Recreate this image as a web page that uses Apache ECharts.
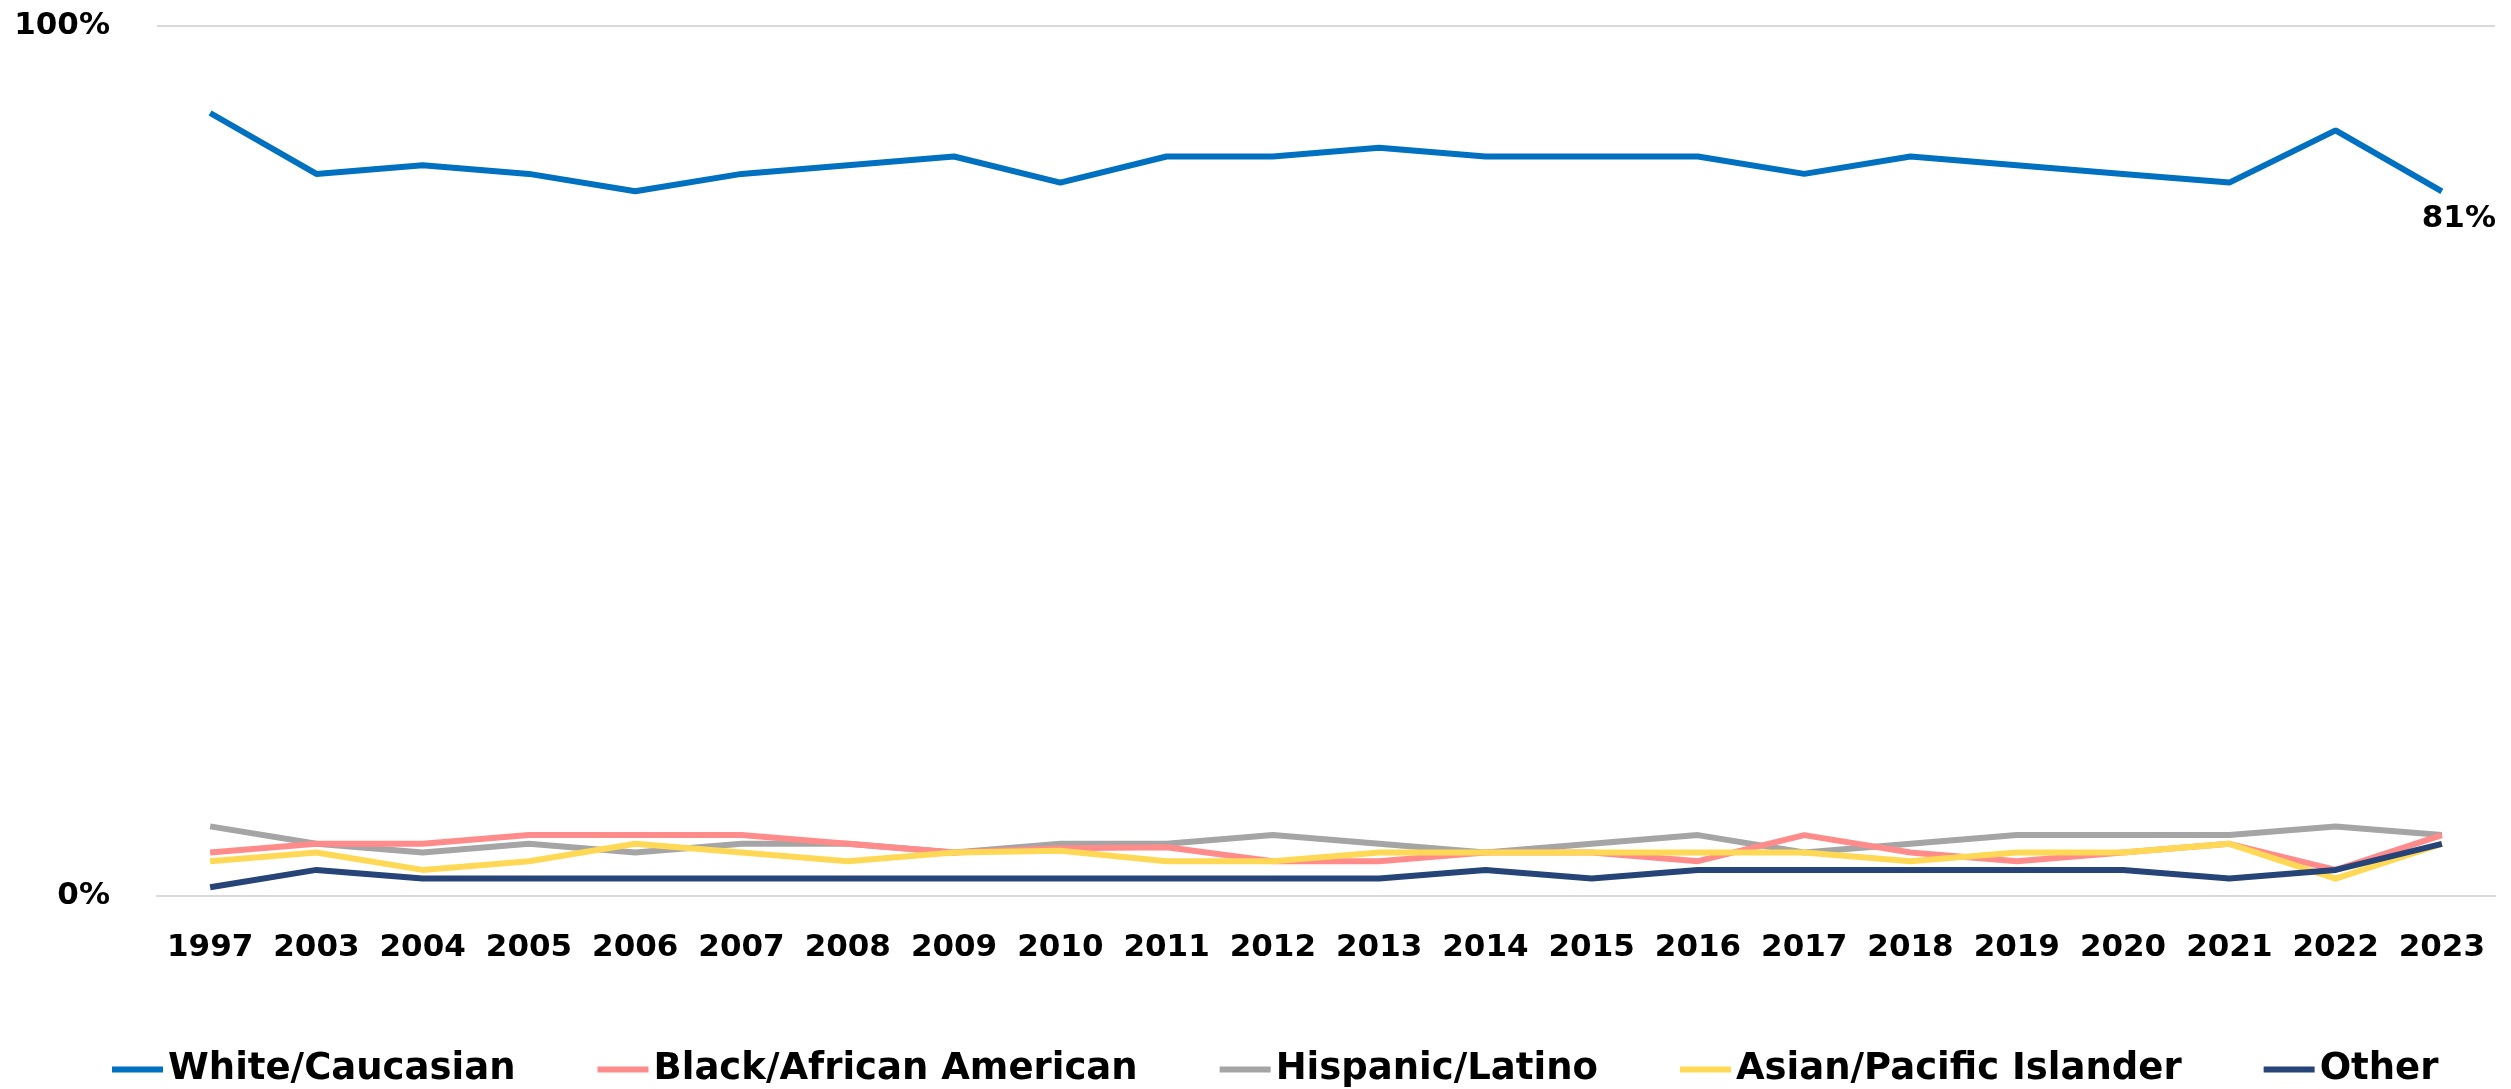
<!DOCTYPE html>
<html>
<head>
<meta charset="utf-8">
<script src="https://cdn.jsdelivr.net/npm/echarts@6/dist/echarts.min.js"></script>
<style>
html,body{margin:0;padding:0;background:#fff;}
#chart{width:2511px;height:1089px;}
</style>
</head>
<body>
<div id="chart"></div>
<script>
var years = ['1997','2003','2004','2005','2006','2007','2008','2009','2010','2011','2012','2013','2014','2015','2016','2017','2018','2019','2020','2021','2022','2023'];
var white    = [90,83,84,83,81,83,84,85,82,85,85,86,85,85,85,83,85,84,83,82,88,81];
var black    = [5,6,6,7,7,7,6,5,5.5,5.6,4,4,5,5,4,7,5,4,5,6,3,7];
var hispanic = [8,6,5,6,5,6,6,5,6,6,7,6,5,6,7,5,6,7,7,7,8,7];
var asian    = [4,5,3,4,6,5,4,5,5.2,4,4,5,5,5,5,5,4,5,5,6,2,6];
var other    = [1,3,2,2,2,2,2,2,2,2,2,2,3,2,3,3,3,3,3,2,3,6];
var yTicks = [0, 100];

var FONT = 'DejaVu Sans';
var chart = echarts.init(document.getElementById('chart'), null, {renderer:'canvas'});

function lineSeries(name, data, color, z){
  return {
    name: name, type: 'line', data: data, symbol: 'circle', symbolSize: 0, showSymbol: true, z: z,
    lineStyle: {color: color, width: 6},
    itemStyle: {color: color},
    emphasis: {disabled: true}
  };
}

var whiteData = white.map(function(v, i){
  if (i === white.length - 1) {
    return {value: v, label: {show: true, position: 'bottom', distance: 12, offset: [17, 0],
      formatter: '{c}%', color: '#000', fontFamily: FONT, fontWeight: 'bold', fontSize: 31}};
  }
  return v;
});

chart.setOption({
  animation: false,
  backgroundColor: '#fff',
  grid: {left: 157, right: 16, top: 26, bottom: 193, containLabel: false},
  xAxis: {
    type: 'category', data: years, boundaryGap: true,
    axisLine: {show: true, lineStyle: {color: '#D9D9D9', width: 2}},
    axisTick: {show: false},
    axisLabel: {color: '#000', fontFamily: FONT, fontWeight: 'bold', fontSize: 31, margin: 36, interval: 0}
  },
  yAxis: {
    type: 'value', min: yTicks[0], max: yTicks[1], interval: 100,
    axisLine: {show: false}, axisTick: {show: false},
    splitLine: {show: true, lineStyle: {color: '#D9D9D9', width: 2}},
    axisLabel: {color: '#000', fontFamily: FONT, fontWeight: 'bold', fontSize: 31, margin: 47,
      formatter: '{value}%'}
  },
  legend: {
    top: 1046, left: 107, itemGap: 82, itemWidth: 51, itemHeight: 6, icon: 'rect',
    textStyle: {color: '#000', fontFamily: FONT, fontWeight: 'bold', fontSize: 37, padding: [0,0,0,0]},
    data: ['White/Caucasian','Black/African American','Hispanic/Latino','Asian/Pacific Islander','Other']
  },
  series: [
    lineSeries('White/Caucasian', whiteData, '#0070C0', 5),
    lineSeries('Black/African American', black, '#FF8B8B', 2),
    lineSeries('Hispanic/Latino', hispanic, '#A5A5A5', 1),
    lineSeries('Asian/Pacific Islander', asian, '#FFD955', 3),
    lineSeries('Other', other, '#264478', 4)
  ]
});
</script>
</body>
</html>
